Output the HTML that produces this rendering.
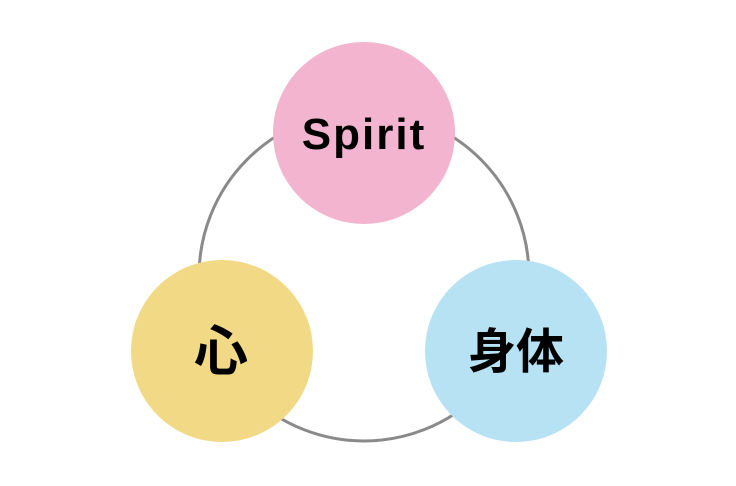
<!DOCTYPE html>
<html><head><meta charset="utf-8"><style>
body{margin:0;background:#fff;}
svg{display:block}
text{font-family:"Liberation Sans","Noto Sans CJK JP",sans-serif;font-weight:bold;fill:#000;}
</style></head><body>
<svg width="736" height="486" viewBox="0 0 736 486">
<circle cx="364" cy="276" r="165" fill="none" stroke="#8a8a8a" stroke-width="3"/>
<circle cx="364" cy="133" r="91" fill="#f3b4cf"/>
<circle cx="222" cy="351" r="91" fill="#f2d985"/>
<circle cx="516" cy="351" r="91" fill="#b6e2f4"/>
<text x="364" y="149" font-size="44" text-anchor="middle" letter-spacing="2">Spirit</text>
<text x="221" y="370" font-size="54" text-anchor="middle">心</text>
<text x="516" y="368" font-size="48" text-anchor="middle">身体</text>
</svg>
</body></html>
